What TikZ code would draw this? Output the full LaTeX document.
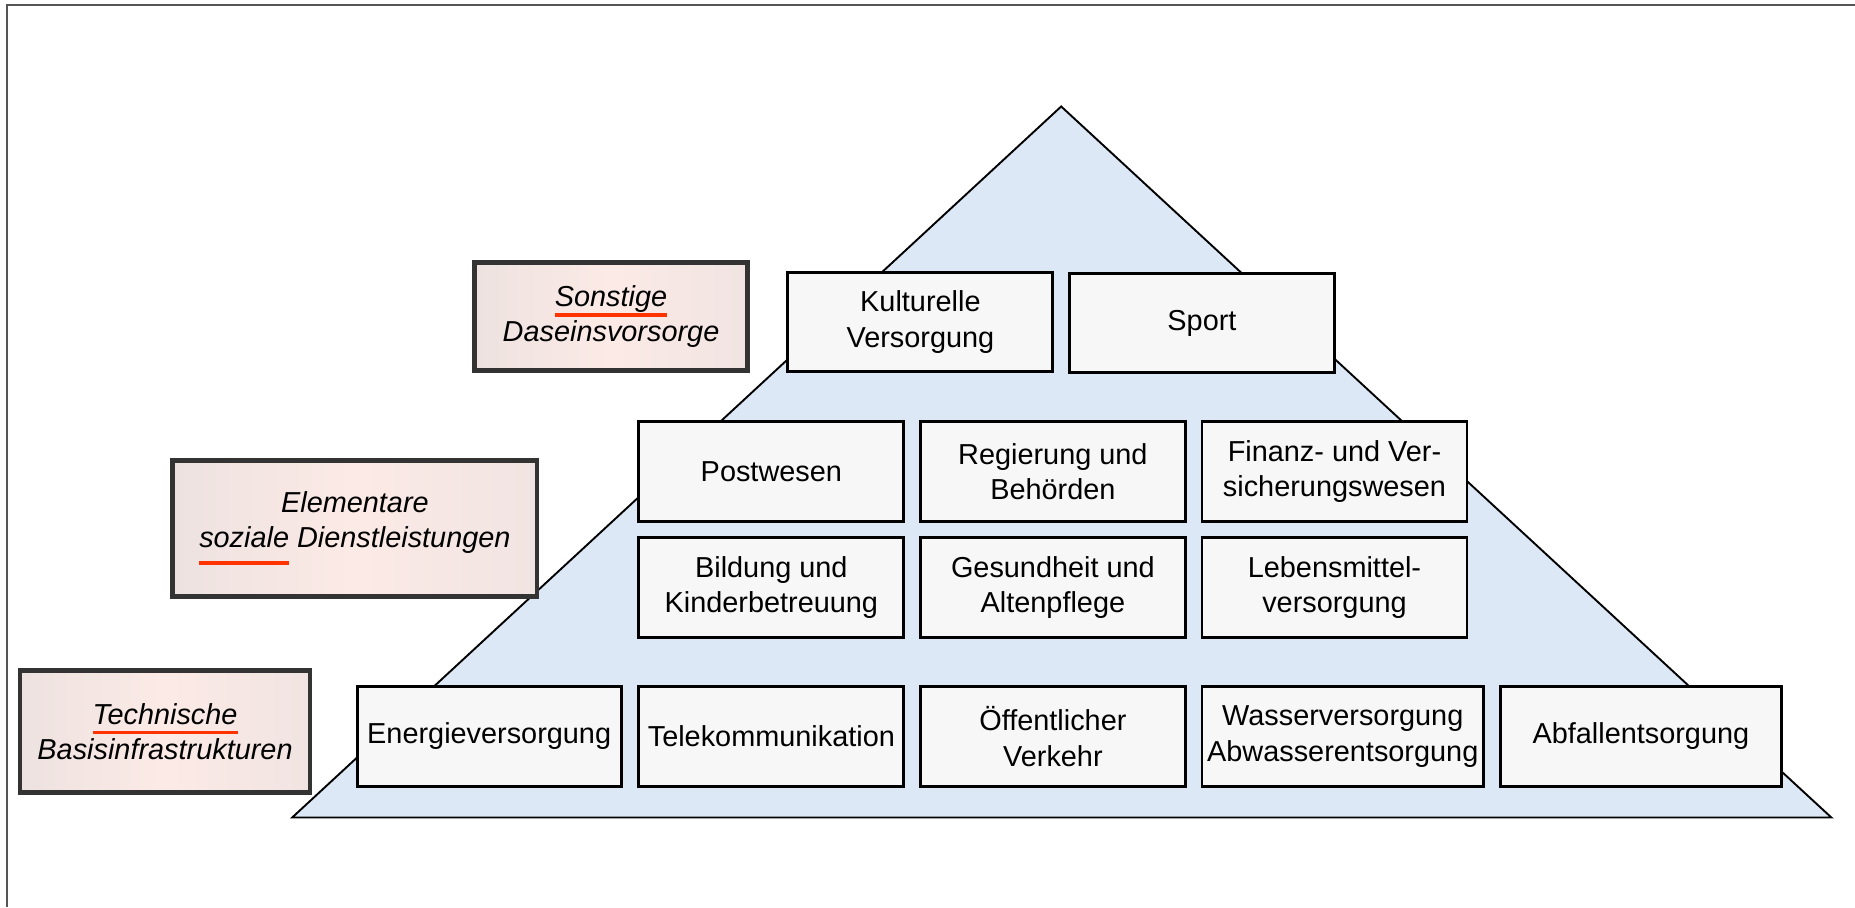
\documentclass[tikz,border=0pt]{standalone}
\usepackage{fontspec}
\setmainfont{Liberation Sans}
\usetikzlibrary{shadings}
\definecolor{pyrblue}{HTML}{DCE8F5}
\definecolor{boxfill}{HTML}{F7F7F7}
\definecolor{lblborder}{HTML}{333333}
\definecolor{lblleft}{HTML}{EDE2E0}
\definecolor{lblmid}{HTML}{FCEAE6}
\definecolor{lblright}{HTML}{F0E4E2}
\definecolor{ulred}{HTML}{FF3300}
\definecolor{framegray}{HTML}{555555}
\newcommand\redul[3]{\setbox0\hbox{#1}\leavevmode\rlap{\textcolor{ulred}{\rule[#2]{\wd0}{#3}}}\box0\relax}
\tikzset{
  x=0.5pt, y=-0.5pt,
  every node/.style={font=\fontsize{12.2}{15}\selectfont, align=center, inner sep=0pt},
  cell/.style={draw=black, line width=1.2pt, fill=boxfill, minimum height=42pt},
  lbl/.style={draw=lblborder, line width=2pt, left color=lblleft, right color=lblright, middle color=lblmid, font=\fontsize{12.2}{15}\selectfont\itshape},
}
\begin{document}
\begin{tikzpicture}
\useasboundingbox (0,0) rectangle (1568,767);
% frame
\draw[framegray, line width=0.8pt] (6,767) -- (6,4) -- (1568,4);
% pyramid
\coordinate (apex) at (897,90);
\coordinate (bl) at (247,691);
\coordinate (br) at (1548,691);
\draw[fill=pyrblue, line width=0.8pt, line join=miter] (bl) -- (apex) -- (br) -- cycle;
% top level
\node[cell, minimum width=112pt] (kult) at (778,272) {Kulturelle\\Versorgung};
\node[cell, minimum width=112pt] (sport) at (1016,273) {Sport};
% middle levels
\node[cell, minimum width=112pt] (post) at (652,398.5) {Postwesen};
\node[cell, minimum width=112pt] (reg) at (890,398.5) {Regierung und\\Behörden};
\node[cell, minimum width=112pt] (fin) at (1128,398.5) {Finanz- und Ver-\\sicherungswesen};
\node[cell, minimum width=112pt] (bild) at (652,496.5) {Bildung und\\Kinderbetreuung};
\node[cell, minimum width=112pt] (ges) at (890,496.5) {Gesundheit und\\Altenpflege};
\node[cell, minimum width=112pt] (leb) at (1128,496.5) {Lebensmittel-\\versorgung};
% bottom level
\node[cell, minimum width=111.5pt] (ener) at (413.5,622.5) {Energieversorgung};
\node[cell, minimum width=112pt] (tele) at (652,622.5) {Telekommunikation};
\node[cell, minimum width=112pt] (oeff) at (890,622.5) {Öffentlicher\\Verkehr};
\node[cell, minimum width=119pt] (wass) at (1135,622.5) {Wasserversorgung\\Abwasserentsorgung};
\node[cell, minimum width=119pt] (abf) at (1387,622.5) {Abfallentsorgung};
% level labels
\node[lbl, minimum width=115.5pt, minimum height=45.5pt] (sonst) at (516.5,267.5)
  {\redul{Sonstige}{-4.5pt}{1.5pt}\\Daseinsvorsorge};
\node[lbl, minimum width=154pt, minimum height=57.5pt] (elem) at (300,446.5)
  {Elementare\\\redul{soziale}{-7.3pt}{1.6pt} Dienstleistungen};
\node[lbl, minimum width=122.5pt, minimum height=51.5pt] (tech) at (139.5,618.5)
  {\redul{Technische}{-4.2pt}{1.5pt}\\Basisinfrastrukturen};
\end{tikzpicture}
\end{document}
